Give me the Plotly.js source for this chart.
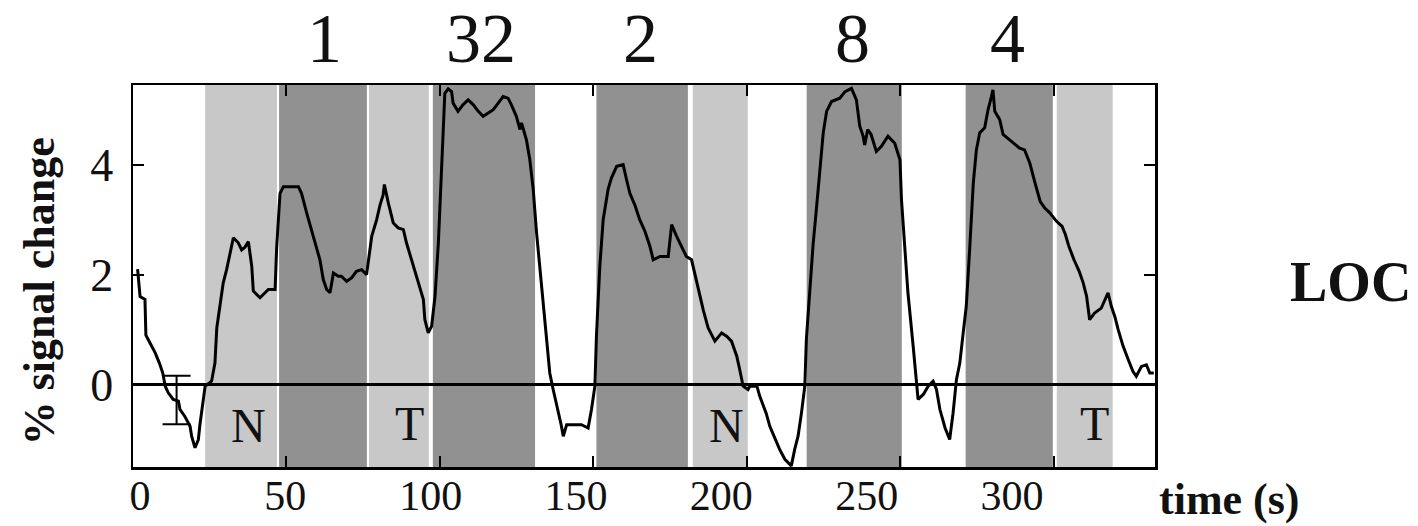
<!DOCTYPE html>
<html>
<head>
<meta charset="utf-8">
<script src="https://cdn.plot.ly/plotly-3.0.1.min.js"></script>
<style>html,body{margin:0;padding:0;background:#fff;}#chart{width:1418px;height:526px;}</style>
</head>
<body>
<div id="chart"></div>
<script>
// ---- data ----
const timeSec = [1.5,2.3,3.9,4.2,5.5,7.2,8.6,9.7,10.5,11.5,13.1,14.8,15.3,16.9,18.6,19.1,20.2,21.3,21.8,23.5,25.6,26.7,27.3,28.3,29.4,30.5,31.6,32.7,34.3,35.4,36.5,37.6,38.7,39.2,41.4,43.0,44.1,46.3,46.8,47.9,49.0,53.9,54.9,56.6,58.2,59.3,60.9,62.0,63.1,64.2,65.3,66.9,
67.9,69.6,71.2,72.8,74.5,76.1,76.7,77.8,79.4,80.5,81.5,81.9,83.2,84.8,86.4,88.1,89.1,90.8,92.4,93.5,94.6,95.1,96.2,97.3,98.4,99.5,100.5,101.1,101.6,102.7,103.8,104.3,105.9,107.5,109.2,110.9,112.5,114.1,115.8,117.4,119.0,120.6,122.2,123.3,124.9,126.1,126.6,128.2,129.3,130.4,131.5,133.1,
134.8,135.8,136.9,138.5,139.5,140.2,141.3,143.4,146.1,148.3,149.4,150.5,151.0,152.1,153.2,154.8,155.9,157.6,159.7,160.8,161.9,163.5,165.1,166.8,168.4,169.5,171.7,174.4,175.5,177.1,178.7,180.3,182.0,183.1,184.2,185.8,187.4,189.6,191.8,193.4,195.0,196.7,197.7,198.8,200.4,
201.0,203.3,204.2,206.3,207.5,209.1,210.7,212.4,214.5,215.6,216.7,217.8,218.9,219.4,220.5,221.6,222.7,223.8,224.9,226.0,227.6,230.3,232.0,234.1,235.7,236.8,237.9,238.4,239.4,240.5,242.2,243.8,246.0,248.2,249.9,250.4,251.5,252.5,254.2,255.3,255.8,257.5,259.1,260.7,261.8,262.9,264.6,266.1,
267.2,268.3,269.4,270.5,271.5,272.6,273.8,274.8,275.9,277.5,278.6,279.7,280.2,280.8,282.4,283.5,285.1,286.8,288.9,290.5,292.2,293.9,295.6,297.1,298.8,300.9,302.7,303.8,304.9,306.6,308.3,309.6,310.7,311.7,313.3,315.5,317.7,318.8,319.9,321.0,322.6,324.3,325.8,326.9,328.6,330.2,331.3,332.6];
const signalPct = [2.1,1.6,1.55,0.9,0.76,0.58,0.39,0.21,-0.03,-0.15,-0.27,-0.30,-0.45,-0.58,-0.76,-0.94,-1.15,-1.0,-0.73,-0.03,0.06,0.39,1.03,1.42,1.85,2.09,2.39,2.67,2.58,2.45,2.5,2.6,2.15,1.70,1.58,1.67,1.73,1.73,2.48,3.48,3.6,3.6,3.48,3.12,2.82,2.58,2.27,1.91,1.73,1.67,2.03,1.97,
1.97,1.88,1.94,2.06,2.09,2.0,2.27,2.7,3.0,3.27,3.45,3.64,3.3,2.94,2.85,2.82,2.58,2.27,1.97,1.79,1.55,1.18,0.94,1.06,1.6,2.58,3.79,4.64,5.3,5.38,5.33,5.12,4.97,5.09,5.18,5.09,4.97,4.88,4.94,5.0,5.12,5.24,5.21,5.09,4.88,4.64,4.76,4.45,4.09,3.55,2.76,1.79,
0.76,0.21,-0.09,-0.45,-0.73,-0.94,-0.73,-0.73,-0.73,-0.79,-0.45,-0.03,0.88,2.15,3.0,3.55,3.76,3.97,4.0,3.73,3.48,3.27,3.0,2.79,2.52,2.27,2.33,2.33,2.91,2.7,2.52,2.33,2.27,2.0,1.79,1.36,1.03,0.79,0.94,0.88,0.79,0.52,0.27,-0.03,-0.09,
-0.03,-0.03,-0.21,-0.52,-0.76,-0.97,-1.18,-1.36,-1.48,-1.18,-0.94,-0.52,-0.03,0.82,1.79,2.55,3.21,3.94,4.58,4.97,5.15,5.21,5.33,5.39,5.18,4.7,4.52,4.36,4.64,4.55,4.24,4.33,4.52,4.39,4.09,3.36,2.52,1.67,0.7,-0.03,-0.27,-0.18,-0.03,0.06,-0.09,-0.45,-0.79,-1.0,
-0.52,0.09,0.39,0.94,1.42,2.45,3.67,4.27,4.58,4.67,5.0,5.24,5.36,4.97,4.82,4.55,4.48,4.39,4.3,4.27,4.03,3.67,3.33,3.21,3.12,2.97,2.88,2.73,2.52,2.27,2.06,1.85,1.61,1.18,1.3,1.39,1.67,1.42,1.24,1.0,0.7,0.45,0.24,0.15,0.33,0.36,0.21,0.21];

// representative error bar
const errT = [14.2];
const errMean = [-0.28];
const errHalf = [0.44];

// stimulus blocks (s)
const blockStart = [23.5, 47.6, 76.9, 97.7, 151.0, 182.4, 219.5, 271.3, 301.0];
const blockEnd   = [46.9, 76.2, 96.4, 131.0, 180.8, 200.3, 250.5, 299.7, 319.2];
const blockKind  = ['light','dark','light','dark','dark','light','dark','dark','light'];

// block letters
const letterText = ['N','T','N','T'];
const letterT = [37.5, 90, 193.5, 313.4];
const letterV = [-0.74, -0.70, -0.74, -0.70];

// numbers above dark blocks
const topText = ['1','32','2','8','4'];
const topT = [62.5, 113.5, 165.5, 234.5, 285];

// axis ticks
const xTickVals = [0,50,100,150,200,250,300];
const xTickText = ['0','50','100','150','200','250','300'];
const yTickVals = [0,2,4];
const yTickText = ['0','2','4'];

// ---- drawing ----
const shadeColor = {light:'#c8c8c8', dark:'#919191'};
const serif = '"Liberation Serif","Times New Roman",Times,serif';

const shapes = blockStart.map((s,i)=>({
  type:'rect', xref:'x', yref:'paper', x0:s, x1:blockEnd[i], y0:0, y1:1,
  fillcolor:shadeColor[blockKind[i]], line:{width:0}, layer:'below'
}));

const annotations = [];
letterText.forEach((t,i)=>annotations.push({x:letterT[i], y:letterV[i], xref:'x', yref:'y', text:t, showarrow:false,
  font:{family:serif, size:48, color:'#111'}}));
topText.forEach((t,i)=>annotations.push({x:topT[i], y:1.2225, xref:'x', yref:'paper', text:t, showarrow:false,
  yanchor:'top', borderpad:0, borderwidth:0, font:{family:serif, size:70, color:'#111'}}));
annotations.push({x:-0.092, y:0.46, xref:'paper', yref:'paper', text:'<b>% signal change</b>', showarrow:false, textangle:-90,
  xanchor:'center', yanchor:'middle', font:{family:serif, size:44, color:'#111'}});
annotations.push({xref:'paper', yref:'paper', x:1.002, y:-0.085, xanchor:'left', yanchor:'middle', text:'<b>time (s)</b>', showarrow:false,
  font:{family:serif, size:44, color:'#111'}});
annotations.push({xref:'paper', yref:'paper', x:1.13, y:0.485, xanchor:'left', yanchor:'middle', text:'<b>LOC</b>', showarrow:false,
  font:{family:serif, size:56, color:'#111'}});

const traces = [
  {x:timeSec, y:signalPct, type:'scatter', mode:'lines', line:{color:'#000', width:3}, hoverinfo:'skip'},
  {x:errT, y:errMean, type:'scatter', mode:'markers', marker:{size:1, opacity:0},
   error_y:{type:'data', array:errHalf, visible:true, width:14, thickness:2, color:'#000'}},
  {x:[], y:[], xaxis:'x2', yaxis:'y', type:'scatter', mode:'lines', showlegend:false}
];

const layout = {
  width:1418, height:526,
  margin:{l:133, r:263, t:85, b:59},
  paper_bgcolor:'#fff', plot_bgcolor:'#fff',
  showlegend:false,
  font:{family:serif, color:'#111'},
  xaxis:{range:[0,333], tickvals:xTickVals, ticktext:xTickText, showticklabels:false,
    ticks:'inside', ticklen:11, tickwidth:2, tickcolor:'#000',
    showline:true, linecolor:'#000', linewidth:2.5, mirror:'ticks', showgrid:false, zeroline:false},
  xaxis2:{overlaying:'x', anchor:'y', side:'bottom', range:[-2.4,349.2], tickvals:xTickVals, ticktext:xTickText,
    ticks:'', showline:false, showgrid:false, zeroline:false, tickfont:{family:serif, size:42, color:'#111'}},
  yaxis:{range:[-1.5,5.45], tickvals:yTickVals, ticktext:yTickText,
    ticks:'inside', ticklen:11, tickwidth:2, tickcolor:'#000', ticklabelstandoff:8,
    showline:true, linecolor:'#000', linewidth:2.5, mirror:'ticks', showgrid:false,
    zeroline:true, zerolinecolor:'#000', zerolinewidth:2.5,
    tickfont:{family:serif, size:46, color:'#111'}},
  shapes:shapes,
  annotations:annotations
};

Plotly.newPlot('chart', traces, layout, {displayModeBar:false, staticPlot:true});
</script>
</body>
</html>
